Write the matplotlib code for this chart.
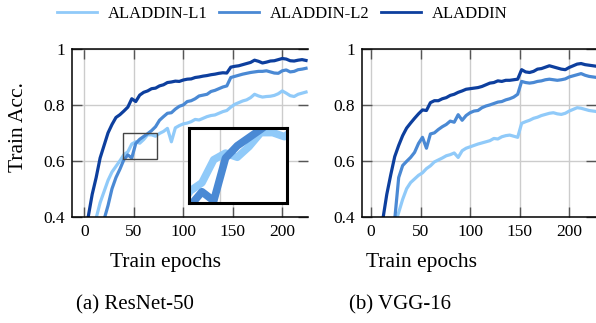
import matplotlib.pyplot as plt
from matplotlib.patches import Rectangle

plt.rcParams['font.family'] = ['Liberation Serif', 'DejaVu Serif']

series_names = ['ALADDIN-L1', 'ALADDIN-L2', 'ALADDIN']
colors = ['#90CAF9', '#4A89D4', '#0D3F9E']

# ResNet-50, one value every 4 epochs
resnet_epochs = list(range(0, 225, 4))
resnet_l1 = [0.28, 0.31, 0.35, 0.395, 0.45, 0.49, 0.53, 0.56, 0.58, 0.60,
             0.622, 0.632, 0.660, 0.668, 0.663, 0.676, 0.693, 0.693, 0.688, 0.698,
             0.705, 0.716, 0.668, 0.718, 0.726, 0.732, 0.735, 0.740, 0.748, 0.746,
             0.752, 0.758, 0.762, 0.764, 0.770, 0.776, 0.780, 0.792, 0.802, 0.808,
             0.814, 0.818, 0.826, 0.838, 0.832, 0.828, 0.830, 0.831, 0.834, 0.840,
             0.850, 0.842, 0.833, 0.830, 0.838, 0.842, 0.846]
resnet_l2 = [0.25, 0.28, 0.31, 0.34, 0.37, 0.39, 0.44, 0.50, 0.54, 0.57,
             0.604, 0.621, 0.610, 0.662, 0.677, 0.687, 0.697, 0.708, 0.722, 0.745,
             0.758, 0.770, 0.772, 0.785, 0.795, 0.800, 0.812, 0.815, 0.822, 0.832,
             0.835, 0.838, 0.848, 0.852, 0.858, 0.864, 0.868, 0.898, 0.902, 0.906,
             0.910, 0.913, 0.916, 0.918, 0.920, 0.920, 0.922, 0.918, 0.914, 0.913,
             0.922, 0.925, 0.918, 0.920, 0.926, 0.928, 0.931]
resnet_full = [0.30, 0.40, 0.48, 0.54, 0.61, 0.655, 0.70, 0.73, 0.755, 0.765,
               0.778, 0.792, 0.822, 0.812, 0.835, 0.845, 0.850, 0.858, 0.860, 0.868,
               0.872, 0.880, 0.882, 0.885, 0.884, 0.889, 0.892, 0.893, 0.898, 0.900,
               0.903, 0.905, 0.908, 0.910, 0.913, 0.915, 0.914, 0.935, 0.938, 0.940,
               0.944, 0.948, 0.952, 0.960, 0.956, 0.950, 0.953, 0.957, 0.958, 0.962,
               0.966, 0.964, 0.958, 0.957, 0.960, 0.962, 0.959]

# VGG-16, one value every 4 epochs
vgg_epochs = list(range(0, 229, 4))
vgg_l1 = [0.18, 0.21, 0.24, 0.27, 0.30, 0.33, 0.37, 0.415, 0.462, 0.50,
          0.522, 0.535, 0.548, 0.557, 0.572, 0.582, 0.596, 0.603, 0.610, 0.618,
          0.622, 0.628, 0.612, 0.636, 0.645, 0.650, 0.655, 0.660, 0.664, 0.668,
          0.672, 0.680, 0.678, 0.686, 0.690, 0.692, 0.688, 0.684, 0.734, 0.740,
          0.745, 0.752, 0.756, 0.762, 0.766, 0.770, 0.772, 0.768, 0.766, 0.770,
          0.778, 0.784, 0.790, 0.788, 0.784, 0.780, 0.778, 0.776]
vgg_l2 = [0.20, 0.24, 0.27, 0.30, 0.33, 0.36, 0.39, 0.54, 0.583, 0.598,
          0.612, 0.630, 0.662, 0.684, 0.645, 0.696, 0.700, 0.712, 0.722, 0.730,
          0.742, 0.738, 0.765, 0.745, 0.762, 0.772, 0.778, 0.780, 0.790, 0.796,
          0.800, 0.805, 0.810, 0.812, 0.818, 0.822, 0.828, 0.838, 0.884, 0.880,
          0.878, 0.880, 0.884, 0.886, 0.890, 0.892, 0.890, 0.888, 0.890, 0.893,
          0.900, 0.904, 0.908, 0.912, 0.906, 0.902, 0.900, 0.898]
vgg_full = [0.25, 0.30, 0.35, 0.39, 0.48, 0.55, 0.615, 0.655, 0.69, 0.717,
            0.735, 0.752, 0.768, 0.782, 0.780, 0.808, 0.815, 0.815, 0.822, 0.826,
            0.834, 0.838, 0.845, 0.850, 0.856, 0.858, 0.860, 0.862, 0.866, 0.872,
            0.878, 0.880, 0.886, 0.884, 0.888, 0.888, 0.890, 0.892, 0.926, 0.918,
            0.916, 0.920, 0.928, 0.930, 0.935, 0.940, 0.936, 0.932, 0.928, 0.926,
            0.934, 0.940, 0.946, 0.948, 0.944, 0.942, 0.940, 0.938]

x_ticks = [0, 50, 100, 150, 200]
y_ticks = [0.4, 0.6, 0.8, 1.0]
y_tick_labels = ['0.4', '0.6', '0.8', '1']

W, H = 596, 323
fig = plt.figure(figsize=(W / 100, H / 100), dpi=100)


def px_axes(x0, y0, x1, y1):
    return fig.add_axes([x0 / W, 1 - y1 / H, (x1 - x0) / W, (y1 - y0) / H])


def style(ax, xlim):
    ax.set_xticks(x_ticks)
    ax.set_yticks(y_ticks)
    ax.set_yticklabels(y_tick_labels)
    ax.set_xlim(*xlim)
    ax.set_ylim(0.4, 1.0)
    ax.grid(True, color='#cccccc', linewidth=1.0)
    ax.set_axisbelow(True)
    ax.tick_params(direction='in', length=7, width=1, color='#555555',
                   top=True, right=True, labelsize=12.5, pad=5)
    for side in ['left', 'top', 'bottom']:
        ax.spines[side].set_linewidth(1.1)
    ax.spines['right'].set_visible(False)


ax1 = px_axes(72, 49, 308, 216.7)
ax2 = px_axes(362, 49, 596, 216.7)

handles = []
for vals, name, c in zip([resnet_l1, resnet_l2, resnet_full], series_names, colors):
    h, = ax1.plot(resnet_epochs, vals, color=c, linewidth=2.3, label=name)
    handles.append(h)
for vals, c in zip([vgg_l1, vgg_l2, vgg_full], colors):
    ax2.plot(vgg_epochs, vals, color=c, linewidth=2.3)

style(ax1, (-12.4, 226))
style(ax2, (-9, 227))

# zoomed region on the ResNet plot
zx0, zx1, zy0, zy1 = 39.5, 73.0, 0.607, 0.699
ax1.add_patch(Rectangle((zx0, zy0), zx1 - zx0, zy1 - zy0, fill=False,
                        edgecolor='#444444', linewidth=1.0, zorder=5))
ins = ax1.inset_axes([0.4945, 0.080, 0.418, 0.451])
for vals, c in zip([resnet_l1, resnet_l2], colors[:2]):
    ins.plot(resnet_epochs, vals, color=c, linewidth=5.5)
ins.set_xticks(x_ticks)
ins.set_yticks(y_ticks)
ins.set_xlim(zx0, zx1)
ins.set_ylim(zy0, zy1)
ins.grid(True, color='#cccccc', linewidth=1.0)
ins.set_axisbelow(True)
ins.tick_params(length=0, labelbottom=False, labelleft=False)
for s in ins.spines.values():
    s.set_linewidth(2.2)
ins.set_facecolor('white')
ins.set_zorder(6)

fig.text(18.5 / W, 1 - 127.5 / H, 'Train Acc.', rotation=90, ha='center', va='center', fontsize=15.5)
fig.text(166 / W, 1 - 263 / H, 'Train epochs', ha='center', va='center', fontsize=15.5)
fig.text(421 / W, 1 - 263 / H, 'Train epochs', ha='center', va='center', fontsize=15.5)
fig.text(134.5 / W, 1 - 305 / H, '(a) ResNet-50', ha='center', va='center', fontsize=15)
fig.text(400 / W, 1 - 305 / H, '(b) VGG-16', ha='center', va='center', fontsize=15)

leg = fig.legend(handles=handles, loc='center', bbox_to_anchor=(282 / W, 1 - 14 / H),
                 ncol=3, frameon=False, fontsize=12, handlelength=2.4,
                 handletextpad=0.65, columnspacing=0.7, borderaxespad=0)
for line in leg.get_lines():
    line.set_linewidth(2.0)

fig.savefig('out.png', dpi=100)
